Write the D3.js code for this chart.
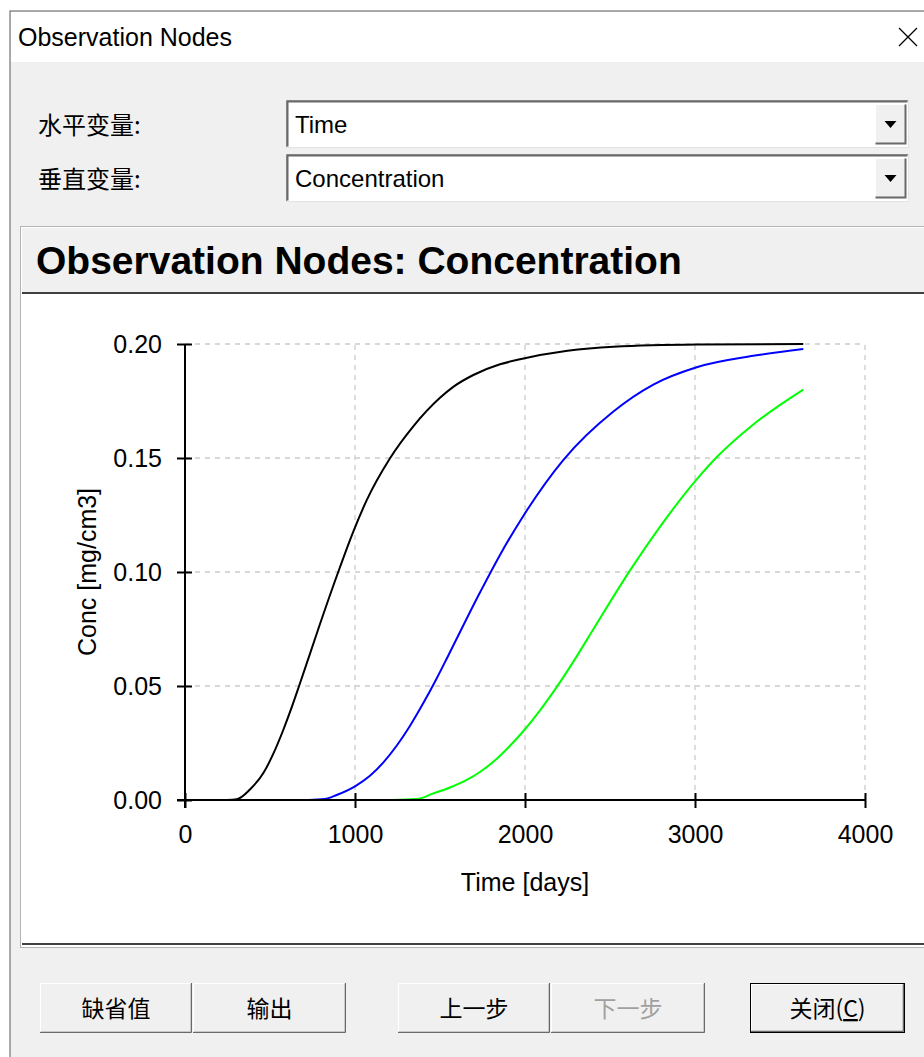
<!DOCTYPE html>
<html>
<head>
<meta charset="utf-8">
<script src="https://cdn.jsdelivr.net/npm/d3@7"></script>
<style>
	body { margin: 0; background: #ffffff; }
	svg { display: block; }
	text { font-family: "Liberation Sans", Arial, sans-serif; }
	.cjk { font-family: "Noto Sans CJK SC", "Noto Sans", sans-serif; }
</style>
</head>
<body>
<div id="chart"></div>
<script>
// series: time [days] / conc [mg/cm3]
const blackTime = [245, 304, 382, 461, 519, 578, 628, 672, 735, 794, 912, 990, 1069, 1206, 1343, 1500, 1578, 1696, 1853, 1971, 2250, 2520, 3010, 3637];
const blackConc = [0, 0.0003, 0.0046, 0.0118, 0.0202, 0.0307, 0.0407, 0.0502, 0.0641, 0.0772, 0.1022, 0.1177, 0.1315, 0.1499, 0.1639, 0.1764, 0.1812, 0.1864, 0.1911, 0.1933, 0.197, 0.1988, 0.1998, 0.2];
const blueTime = [725, 821, 892, 1000, 1088, 1166, 1245, 1324, 1402, 1481, 1549, 1735, 1853, 1990, 2225, 2520, 2755, 3010, 3343, 3637];
const blueConc = [0, 0.0004, 0.0022, 0.0060, 0.0106, 0.0164, 0.0238, 0.0326, 0.0425, 0.0534, 0.0634, 0.0910, 0.1075, 0.1246, 0.1491, 0.1704, 0.1822, 0.1898, 0.1948, 0.1978];
const greenTime = [1216, 1363, 1461, 1559, 1657, 1735, 1834, 1912, 1996, 2108, 2216, 2304, 2402, 2618, 2814, 3010, 3127, 3343, 3637];
const greenConc = [0, 0.0004, 0.0029, 0.0055, 0.0088, 0.0123, 0.0181, 0.0238, 0.0307, 0.0413, 0.0528, 0.0630, 0.0749, 0.1007, 0.1219, 0.1406, 0.1503, 0.1647, 0.1800];

const xTicks = [0, 1000, 2000, 3000, 4000];
const yTicks = [0, 0.05, 0.10, 0.15, 0.20];

const seriesList = [
	{time: blackTime, conc: blackConc, color: "#000000"},
	{time: blueTime, conc: blueConc, color: "#0000ff"},
	{time: greenTime, conc: greenConc, color: "#00ff00"}
];

const W = 924, H = 1057;
const svg = d3.select("#chart").append("svg").attr("width", W).attr("height", H);

// ---------- window frame ----------
svg.append("rect").attr("x", 10).attr("y", 11).attr("width", W).attr("height", H)
	.style("fill", "#f0f0f0").style("stroke", "#5a5a5a").style("stroke-width", 1);
svg.append("rect").attr("x", 11).attr("y", 12).attr("width", W).attr("height", 50).style("fill", "#ffffff");
svg.append("text").text("Observation Nodes").attr("x", 18).attr("y", 46)
	.attr("font-size", 25).style("fill", "#000");
// close cross
svg.append("path").attr("d", "M899,28 L917,46 M917,28 L899,46")
	.style("stroke", "#000").style("stroke-width", 1.3).style("fill", "none");

// ---------- combo boxes ----------
function combo(y, label, value) {
	svg.append("text").attr("class", "cjk").text(label).attr("x", 38).attr("y", y + 34)
		.attr("font-size", 24).style("fill", "#000");
	let g = svg.append("g");
	g.append("rect").attr("x", 286).attr("y", y).attr("width", 623).attr("height", 48).style("fill", "#ffffff");
	// sunken border
	g.append("path").attr("d", "M286.5," + (y + 47.5) + " V" + (y + 0.5) + " H908.5")
		.style("stroke", "#a0a0a0").style("stroke-width", 1).style("fill", "none");
	g.append("path").attr("d", "M287.5," + (y + 46.5) + " V" + (y + 1.5) + " H907.5")
		.style("stroke", "#696969").style("stroke-width", 2).style("fill", "none");
	g.append("path").attr("d", "M286.5," + (y + 47.5) + " H908.5 V" + (y + 0.5))
		.style("stroke", "#e3e3e3").style("stroke-width", 1).style("fill", "none");
	g.append("text").text(value).attr("x", 295).attr("y", y + 33).attr("font-size", 24).style("fill", "#000");
	// drop button
	let bx = 875, by = y + 4, bw = 31, bh = 40;
	g.append("rect").attr("x", bx).attr("y", by).attr("width", bw).attr("height", bh).style("fill", "#f0f0f0");
	g.append("path").attr("d", "M" + (bx + 0.5) + "," + (by + bh - 0.5) + " V" + (by + 0.5) + " H" + (bx + bw - 0.5))
		.style("stroke", "#ffffff").style("fill", "none");
	g.append("path").attr("d", "M" + (bx + 0.5) + "," + (by + bh - 0.5) + " H" + (bx + bw - 0.5) + " V" + (by + 0.5))
		.style("stroke", "#696969").style("stroke-width", 2).style("fill", "none");
	let cx = bx + bw / 2, cy = by + bh / 2 + 1;
	g.append("path").attr("d", "M" + (cx - 6) + "," + (cy - 4) + " L" + (cx + 6) + "," + (cy - 4) + " L" + cx + "," + (cy + 3) + " Z")
		.style("fill", "#000");
}
combo(100, "水平变量:", "Time");
combo(154, "垂直变量:", "Concentration");

// ---------- chart panel ----------
svg.append("rect").attr("x", 20.5).attr("y", 226.5).attr("width", 920).attr("height", 721)
	.style("fill", "#ffffff").style("stroke", "#707070").style("stroke-dasharray", "1,1");
svg.append("rect").attr("x", 22).attr("y", 228).attr("width", 910).attr("height", 65).style("fill", "#f0f0f0");
svg.append("line").attr("x1", 22).attr("x2", W).attr("y1", 293).attr("y2", 293).style("stroke", "#404040").style("stroke-width", 2);
svg.append("line").attr("x1", 22).attr("x2", W).attr("y1", 944).attr("y2", 944).style("stroke", "#404040").style("stroke-width", 2);
svg.append("text").text("Observation Nodes: Concentration").attr("x", 36).attr("y", 274)
	.attr("font-size", 39).attr("font-weight", "bold").style("fill", "#000");

// ---------- plot ----------
let x = d3.scaleLinear().domain([0, 4000]).range([185, 865]);
let y = d3.scaleLinear().domain([0, 0.2]).range([800, 344]);

let grid = svg.append("g").attr("id", "grid");
grid.selectAll("line.h").data(yTicks.filter(d => d > 0)).enter().append("line")
	.attr("x1", x(0)).attr("x2", x(4000)).attr("y1", d => y(d)).attr("y2", d => y(d))
	.style("stroke", "#cccccc").style("stroke-width", 1.3).style("stroke-dasharray", "5,5");
grid.selectAll("line.v").data(xTicks.filter(d => d > 0)).enter().append("line")
	.attr("x1", d => x(d)).attr("x2", d => x(d)).attr("y1", y(0)).attr("y2", y(0.2))
	.style("stroke", "#cccccc").style("stroke-width", 1.3).style("stroke-dasharray", "5,5");

let line = d3.line().x(d => x(d[0])).y(d => y(d[1])).curve(d3.curveMonotoneX);
seriesList.forEach(function (s) {
	let pts = s.time.map((t, i) => [t, s.conc[i]]);
	svg.append("path").datum(pts).attr("d", line)
		.style("fill", "none").style("stroke", s.color).style("stroke-width", 2);
});

// axes
let xAxis = d3.axisBottom(x).tickValues(xTicks).tickSizeInner(8).tickSizeOuter(0).tickPadding(17)
	.tickFormat(d3.format("d"));
let gx = svg.append("g").attr("transform", "translate(0," + y(0) + ")").call(xAxis);
gx.select(".domain").remove();
gx.selectAll(".tick line").attr("y1", -7).style("stroke", "#000").style("stroke-width", 2);
gx.selectAll(".tick text").attr("font-size", 25).attr("font-family", "Liberation Sans, Arial, sans-serif").style("fill", "#000");

let yAxis = d3.axisLeft(y).tickValues(yTicks).tickSizeInner(8).tickSizeOuter(0).tickPadding(15)
	.tickFormat(d3.format(".2f"));
let gy = svg.append("g").attr("transform", "translate(" + x(0) + ",0)").call(yAxis);
gy.select(".domain").remove();
gy.selectAll(".tick line").attr("x1", 7).style("stroke", "#000").style("stroke-width", 2);
gy.selectAll(".tick text").attr("font-size", 25).attr("font-family", "Liberation Sans, Arial, sans-serif").style("fill", "#000");

svg.append("line").attr("x1", x(0) - 8).attr("x2", x(4000)).attr("y1", y(0)).attr("y2", y(0))
	.style("stroke", "#000").style("stroke-width", 2);
svg.append("line").attr("x1", x(0)).attr("x2", x(0)).attr("y1", y(0.2)).attr("y2", y(0) + 8)
	.style("stroke", "#000").style("stroke-width", 2);

svg.append("text").text("Time [days]").attr("x", (x(0) + x(4000)) / 2).attr("y", 891)
	.attr("font-size", 25).style("text-anchor", "middle").style("fill", "#000");
svg.append("text").text("Conc [mg/cm3]")
	.attr("transform", "translate(96," + ((y(0) + y(0.2)) / 2) + ") rotate(-90)")
	.attr("font-size", 25).style("text-anchor", "middle").style("fill", "#000");

// ---------- buttons ----------
const buttons = [
	{label: "缺省值", x: 40, w: 152},
	{label: "输出", x: 193, w: 153},
	{label: "上一步", x: 398, w: 152},
	{label: "下一步", x: 551, w: 154, disabled: true},
	{label: "关闭(C)", x: 750, w: 155, isDefault: true}
];
buttons.forEach(function (b) {
	let by = 983, bh = 50;
	let g = svg.append("g");
	g.append("rect").attr("x", b.x).attr("y", by).attr("width", b.w).attr("height", bh).style("fill", "#f0f0f0");
	if (b.isDefault) {
		g.append("rect").attr("x", b.x + 0.5).attr("y", by + 0.5).attr("width", b.w - 1).attr("height", bh - 1)
			.style("fill", "none").style("stroke", "#000");
	}
	let o = b.isDefault ? 1 : 0;
	g.append("path").attr("d", "M" + (b.x + o + 0.5) + "," + (by + bh - o - 1) + " V" + (by + o + 0.5) + " H" + (b.x + b.w - o - 1))
		.style("stroke", "#ffffff").style("stroke-width", 1).style("fill", "none");
	g.append("path").attr("d", "M" + (b.x + o + 0.5) + "," + (by + bh - o - 1) + " H" + (b.x + b.w - o - 1) + " V" + (by + o + 0.5))
		.style("stroke", "#a0a0a0").style("stroke-width", 1).style("fill", "none");
	g.append("path").attr("d", "M" + (b.x + o) + "," + (by + bh - o - 0.5) + " H" + (b.x + b.w - o - 0.5) + " V" + (by + o))
		.style("stroke", "#696969").style("stroke-width", 1).style("fill", "none");
	let t = g.append("text").attr("class", "cjk").attr("x", b.x + b.w / 2).attr("y", by + 34)
		.attr("font-size", 23).style("text-anchor", "middle")
		.style("fill", b.disabled ? "#a0a0a0" : "#000");
	if (b.isDefault) {
		t.append("tspan").text("关闭(");
		t.append("tspan").text("C").style("text-decoration", "underline");
		t.append("tspan").text(")");
	} else {
		t.text(b.label);
	}
});
</script>
</body>
</html>
